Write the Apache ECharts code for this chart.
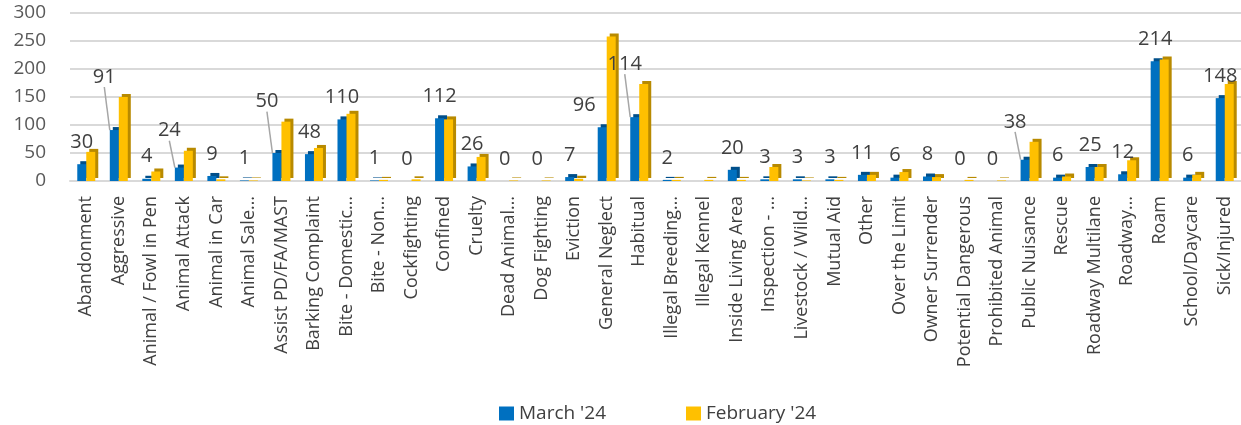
<!DOCTYPE html>
<html>
<head>
<meta charset="utf-8">
<script src="https://cdn.jsdelivr.net/npm/echarts@6/dist/echarts.min.js"></script>
<style>
html, body { margin: 0; padding: 0; background: #fff; }
#mainCanvas { width: 1241px; height: 425px; }
</style>
</head>
<body>
<div id="mainCanvas"></div>
<script>
var categories = ["Abandonment", "Aggressive", "Animal / Fowl in Pen", "Animal Attack", "Animal in Car",
    "Animal Sale…", "Assist PD/FA/MAST", "Barking Complaint", "Bite - Domestic…", "Bite - Non…",
    "Cockfighting", "Confined", "Cruelty", "Dead Animal…", "Dog Fighting", "Eviction",
    "General Neglect", "Habitual", "Illegal Breeding…", "Illegal Kennel", "Inside Living Area",
    "Inspection - …", "Livestock / Wild…", "Mutual Aid", "Other", "Over the Limit",
    "Owner Surrender", "Potential Dangerous", "Prohibited Animal", "Public Nuisance", "Rescue",
    "Roadway Multilane", "Roadway…", "Roam", "School/Daycare", "Sick/Injured"];
var march = [30, 91, 4, 24, 9, 1, 50, 48, 110, 1,
    0, 112, 26, 0, 0, 7, 96, 114, 2, null,
    20, 3, 3, 3, 11, 6, 8, 0, 0, 38,
    6, 25, 12, 214, 6, 148];
var february = [52, 150, 17, 54, 3, 1, 106, 59, 120, 2,
    3, 110, 43, 1, 1, 4, 258, 173, 2, 2,
    2, 25, 1, 2, 11, 16, 7, 2, 1, 70,
    8, 25, 37, 217, 11, 173];
var seriesNames = ["March '24", "February '24"];

var myChart = echarts.init(document.getElementById("mainCanvas"));
var font = "'Open Sans', 'Noto Sans', sans-serif";

// March labels are lifted above the February bar when it is much taller
function needsLift(i) {
    return march[i] != null && february[i] - march[i] >= 30 && february[i] < 230;
}
function shiftLeft(i) {
    return march[i] != null && february[i] - march[i] >= 30 && february[i] >= 230;
}

function placeLabel(params) {
    var i = params.dataIndex;
    var lr = params.labelRect;
    if (needsLift(i)) {
        var febTop = myChart.convertToPixel({ yAxisIndex: 0 }, february[i]);
        var target = febTop - 20;
        return { dy: target - (lr.y + lr.height / 2), dx: -10 };
    }
    if (shiftLeft(i)) {
        return { dx: -18 };
    }
    return {};
}

var marchData = march.map(function (v, i) {
    return { value: v, labelLine: { show: needsLift(i) } };
});

var option = {
    animation: false,
    textStyle: { fontFamily: font },
    legend: {
        data: seriesNames,
        left: 494,
        bottom: -3,
        itemWidth: 15,
        itemHeight: 14,
        itemGap: 80,
        icon: 'rect',
        textStyle: { fontSize: 19, color: '#404040', fontFamily: font }
    },
    grid: { left: 70, right: 0, top: 13, bottom: 244 },
    xAxis: {
        type: 'category',
        data: categories,
        axisLine: { lineStyle: { color: '#d9d9d9', width: 2 } },
        axisTick: { show: false },
        axisLabel: { rotate: 90, interval: 0, fontSize: 18, color: '#404040', margin: 15, fontFamily: font }
    },
    yAxis: {
        type: 'value',
        min: 0,
        max: 300,
        interval: 50,
        axisLine: { show: false },
        axisTick: { show: false },
        axisLabel: { fontSize: 19, color: '#595959', margin: 24, fontFamily: font },
        splitLine: { lineStyle: { color: '#d9d9d9', width: 2 } }
    },
    series: [
        {
            name: seriesNames[0],
            type: 'bar',
            data: marchData,
            barWidth: 9,
            barGap: '0%',
            itemStyle: { color: '#0070c0', shadowColor: '#004f8a', shadowOffsetX: 3, shadowOffsetY: -3, shadowBlur: 0 },
            label: { show: true, position: 'top', distance: 12, fontSize: 20, color: '#404040', fontFamily: font },
            labelLine: { show: false, lineStyle: { color: '#a6a6a6', width: 1.5 } },
            labelLayout: placeLabel
        },
        {
            name: seriesNames[1],
            type: 'bar',
            data: february,
            barWidth: 9,
            itemStyle: { color: '#ffc000', shadowColor: '#b88a00', shadowOffsetX: 3, shadowOffsetY: -3, shadowBlur: 0 }
        }
    ]
};
myChart.setOption(option);
</script>
</body>
</html>
